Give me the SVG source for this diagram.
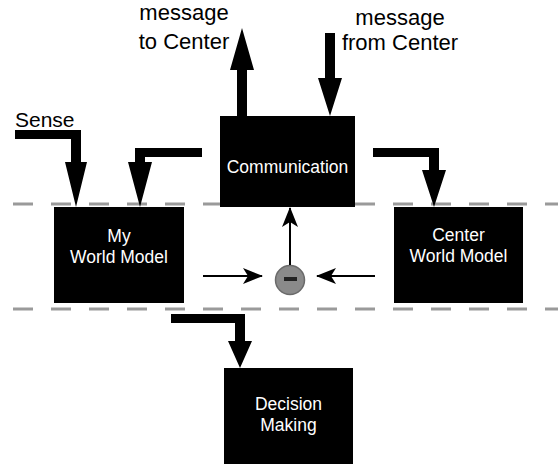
<svg xmlns="http://www.w3.org/2000/svg" width="558" height="465" viewBox="0 0 558 465">
  <defs>
    <style>
      .guide { stroke: #9a9a9a; stroke-width: 3; stroke-dasharray: 20 18; fill: none; }
      .box { fill: #000; }
      .box-label { fill: #fff; font-family: "Liberation Sans", Arial, sans-serif; font-size: 17.5px; text-anchor: middle; }
      .label { fill: #000; font-family: "Liberation Sans", Arial, sans-serif; font-size: 22px; }
      .flow { fill: #000; }
      .thin { stroke: #000; stroke-width: 2; fill: none; }
    </style>
    <marker id="head" viewBox="0 0 20 16" refX="19" refY="8" markerWidth="20" markerHeight="16" markerUnits="userSpaceOnUse" orient="auto">
      <path d="M0,0 L20,8 L0,16 L5,8 Z" fill="#000"/>
    </marker>
  </defs>

  <rect width="558" height="465" fill="#fff"/>

  <!-- dashed band boundaries -->
  <g id="bands">
    <line class="guide" x1="13" y1="204" x2="558" y2="204"/>
    <line class="guide" x1="13" y1="309" x2="558" y2="309"/>
  </g>

  <!-- nodes -->
  <g id="communication">
    <rect class="box" x="220" y="116" width="135" height="91"/>
    <text class="box-label" x="287.5" y="173">Communication</text>
  </g>
  <g id="my-world-model">
    <rect class="box" x="54" y="207" width="130" height="96"/>
    <text class="box-label" x="119" y="242">My</text>
    <text class="box-label" x="119" y="263">World Model</text>
  </g>
  <g id="center-world-model">
    <rect class="box" x="394" y="207" width="129" height="96"/>
    <text class="box-label" x="458.5" y="241">Center</text>
    <text class="box-label" x="458.5" y="262">World Model</text>
  </g>
  <g id="decision-making">
    <rect class="box" x="224" y="368" width="129" height="96"/>
    <text class="box-label" x="288.5" y="410">Decision</text>
    <text class="box-label" x="288.5" y="431">Making</text>
  </g>
  <g id="difference">
    <circle cx="290" cy="280" r="14.5" fill="#8a8a8a" stroke="#6a6a6a" stroke-width="1.5"/>
    <rect x="284" y="277" width="13" height="4" fill="#222"/>
  </g>

  <!-- outside labels -->
  <g id="labels">
    <text class="label" x="184" y="20" text-anchor="middle">message</text>
    <text class="label" x="184" y="49" text-anchor="middle">to Center</text>
    <text class="label" x="400" y="25" text-anchor="middle">message</text>
    <text class="label" x="400" y="50" text-anchor="middle">from Center</text>
    <text class="label" x="15" y="127" style="font-size:21px">Sense</text>
  </g>

  <!-- connectors -->
  <g id="connectors">
    <path class="flow" d="M15,130 H81 V162 H87 L76,207 L65,162 H71 V139 H15 Z"/>
    <path class="flow" d="M202,148 H135 V162 H128 L140,207 L152,162 H145 V157 H202 Z"/>
    <path class="flow" d="M373,148 H439 V170 H446 L434,207 L422,170 H429 V157 H373 Z"/>
    <path class="flow" d="M237,116 V70 H230 L242,28 L254,70 H247 V116 Z"/>
    <path class="flow" d="M325,33 H335 V78 H342 L330,116 L318,78 H325 Z"/>
    <path class="flow" d="M171,314 H245 V341 H252 L240,368 L228,341 H235 V323 H171 Z"/>
    <line class="thin" x1="203" y1="276" x2="262" y2="276" marker-end="url(#head)"/>
    <line class="thin" x1="375" y1="276" x2="317" y2="276" marker-end="url(#head)"/>
    <line class="thin" x1="290" y1="265" x2="290" y2="208" marker-end="url(#head)"/>
  </g>
</svg>
